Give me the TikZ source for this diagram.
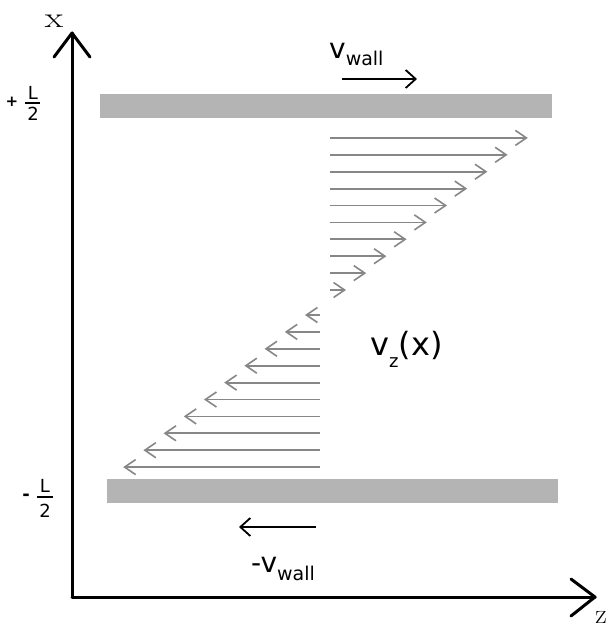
\documentclass[tikz,border=0pt]{standalone}
\usepackage{fontspec}
\usepackage{graphicx}
\usetikzlibrary{arrows.meta}
\newfontfamily\dv{DejaVu Sans}
\definecolor{wallgray}{HTML}{B4B4B4}
\definecolor{profgray}{HTML}{878787}
\newcommand{\fs}[1]{\fontsize{#1}{#1}\selectfont}
\tikzset{
  axisline/.style={line width=3pt, black, line cap=round, line join=round},
  profarrow/.style={line width=1.8pt, profgray, -{Straight Barb[length=11pt,width=15pt,line width=1.6pt]}},
  wallarrow/.style={line width=2pt, black, -{Straight Barb[length=10pt,width=18pt,line width=1.8pt]}},
  wallbar/.style={fill=wallgray, draw=none},
  sanslabel/.style={inner sep=0pt},
  seriflabel/.style={inner sep=0pt}
}
\begin{document}
\begin{tikzpicture}[x=1pt, y=-1pt]
\useasboundingbox (0,0) rectangle (616,627);
\fill[white] (0,0) rectangle (616,627);

% walls
\fill[wallbar] (100,94) rectangle (552,118);
\fill[wallbar] (107,479) rectangle (558,503);

% axes
\coordinate (O) at (72,597);
\coordinate (xtip) at (72,33);
\coordinate (ztip) at (595,597);
\coordinate (xa1) at (54,57);
\coordinate (xa2) at (90,57);
\coordinate (za1) at (571,579);
\coordinate (za2) at (571,616);
\draw[axisline] (O) -- (xtip);
\draw[axisline] (O) -- (ztip);
\draw[axisline] (xa1) -- (xtip) -- (xa2);
\draw[axisline] (za1) -- (ztip) -- (za2);
\node[seriflabel, anchor=base] (xlab) at (54,27) {\fs{29}\scalebox{1.3}[1]{x}};
\node[seriflabel, anchor=base] (zlab) at (601,623) {\fs{28}z};

% fraction labels
\node[sanslabel] (plus) at (12,102) {\dv\fs{15}\bfseries +};
\node[sanslabel] (Ltop) at (33,93) {\dv\fs{18}L};
\node[sanslabel] (twotop) at (33,114) {\dv\fs{18}2};
\draw[line width=1.3pt] (25,103) -- (40,103);
\node[sanslabel] (minus) at (26,497) {\dv\fs{18}\bfseries -};
\node[sanslabel] (Lbot) at (45,486) {\dv\fs{18}L};
\node[sanslabel] (twobot) at (45,511) {\dv\fs{18}2};
\draw[line width=1.3pt] (37,497) -- (53,497);

% velocity profile
\foreach \k in {0,...,9} {
  \coordinate (ts\k) at (330,{290-16.9*\k});
  \coordinate (te\k) at ({346+20.2*\k},{290-16.9*\k});
  \draw[profarrow] (ts\k) -- (te\k);
  \coordinate (bs\k) at (320,{315+16.9*\k});
  \coordinate (be\k) at ({305-20.2*\k},{315+16.9*\k});
  \draw[profarrow] (bs\k) -- (be\k);
}

% wall velocity arrows
\coordinate (tw1) at (342,79);
\coordinate (tw2) at (417,79);
\draw[wallarrow] (tw1) -- (tw2);
\coordinate (bw1) at (316,527);
\coordinate (bw2) at (239,527);
\draw[wallarrow] (bw1) -- (bw2);

% labels
\node[sanslabel, anchor=base west] (vwall) at (329,58)
  {\dv\fs{28}v\raisebox{-7pt}{\fs{19}wall}};
\node[sanslabel, anchor=base west] (mvwall) at (251,572)
  {\dv\fs{28}-v\raisebox{-8pt}{\fs{19}wall}};
\node[sanslabel, anchor=base west] (vzx) at (370,355)
  {\dv\fs{32}v\raisebox{-12pt}{\fs{18}z}(x)};
\end{tikzpicture}
\end{document}
